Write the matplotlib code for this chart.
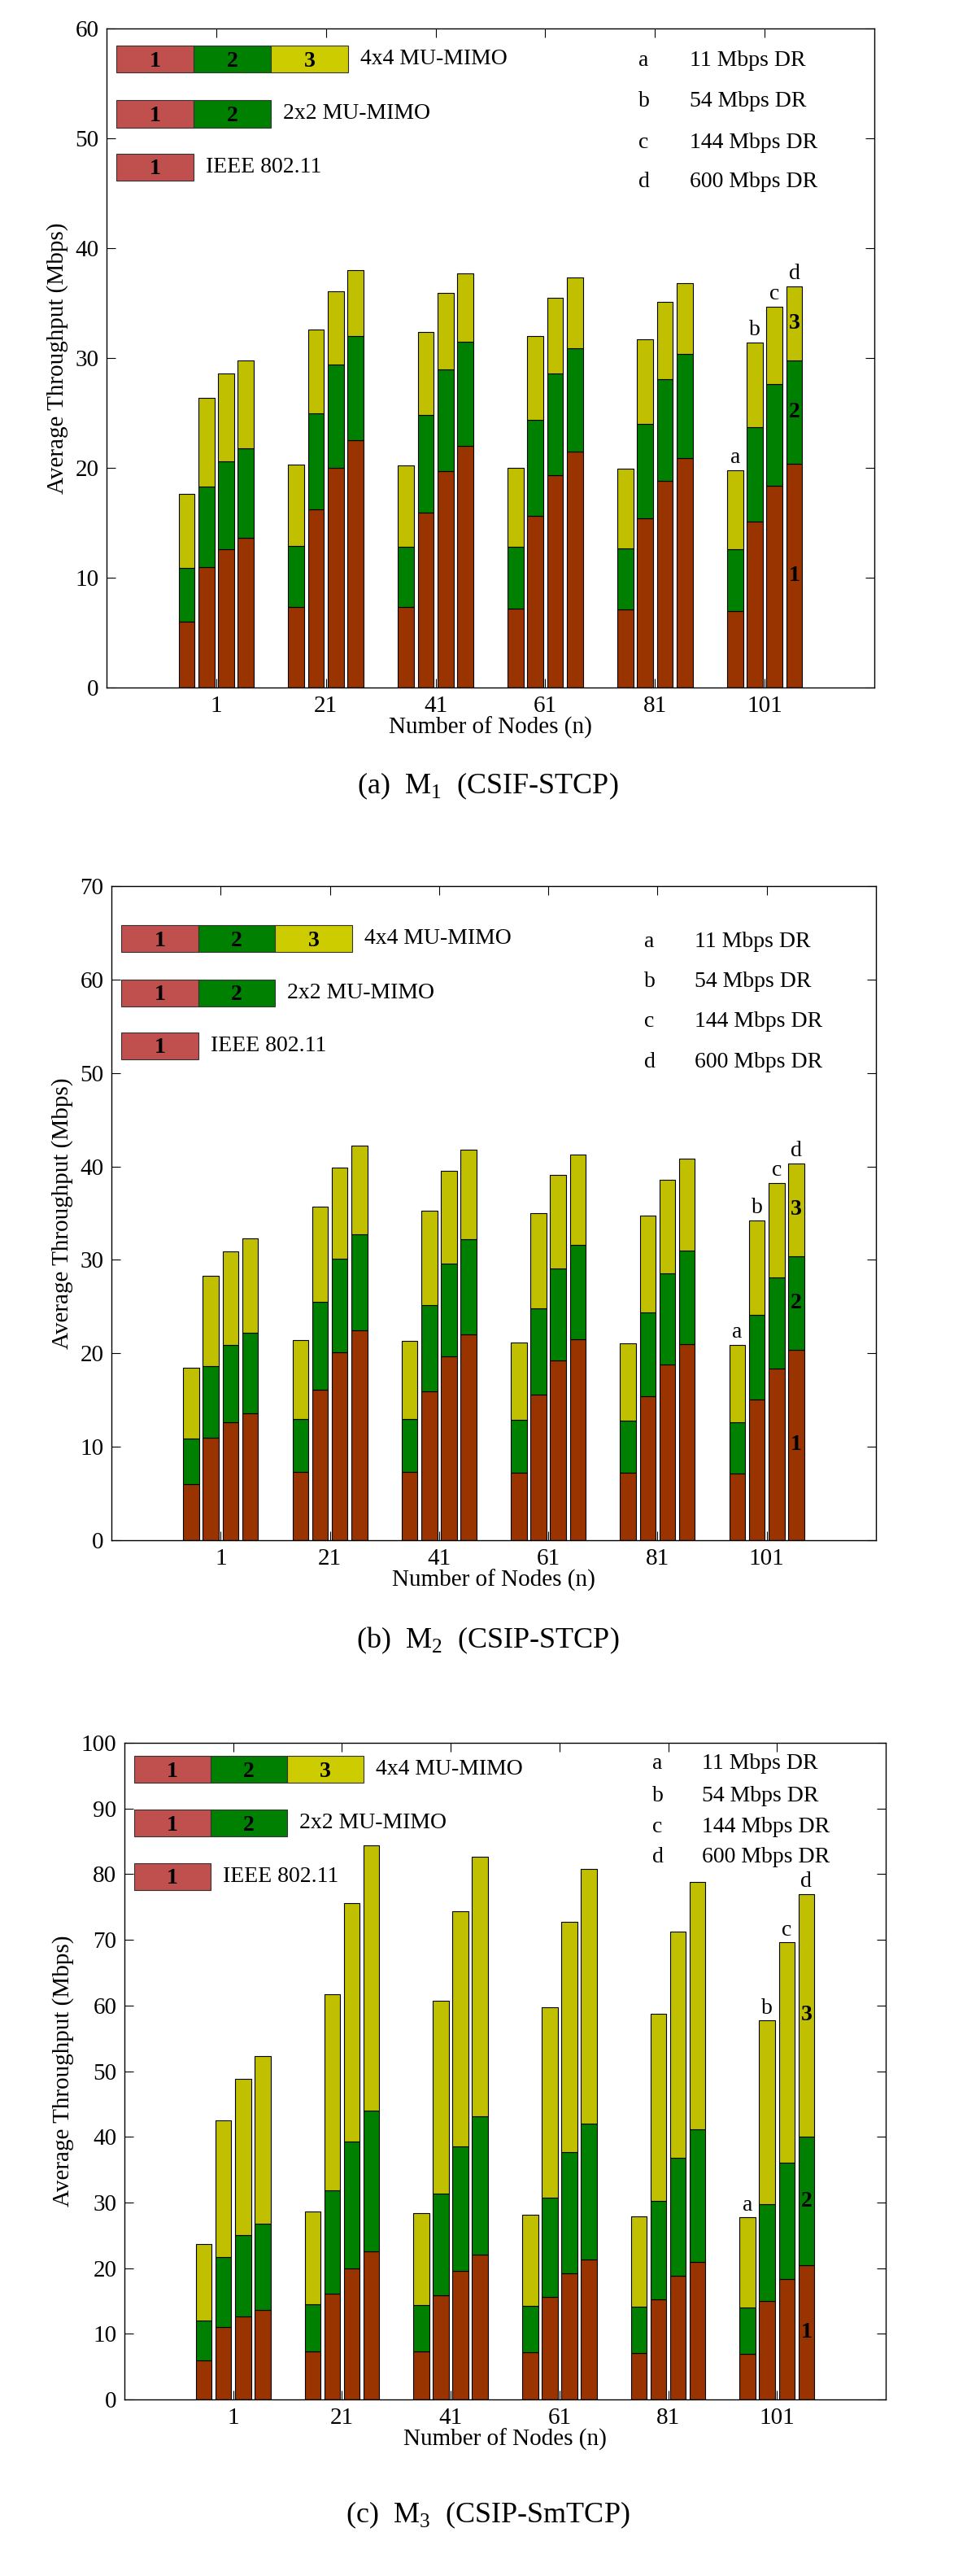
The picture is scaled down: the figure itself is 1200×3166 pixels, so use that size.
import matplotlib.pyplot as plt
from matplotlib.patches import Rectangle
import numpy as np

plt.rcParams['font.family'] = ['Liberation Serif', 'DejaVu Serif']
plt.rcParams['mathtext.fontset'] = 'custom'
plt.rcParams['mathtext.rm'] = 'Liberation Serif'

# number of nodes, data rates
nodes = ['1', '21', '41', '61', '81', '101']
rate_tags = ['a', 'b', 'c', 'd']
rate_names = ['11 Mbps DR', '54 Mbps DR', '144 Mbps DR', '600 Mbps DR']
scheme_names = ['4x4 MU-MIMO', '2x2 MU-MIMO', 'IEEE 802.11']

# throughput (Mbps) per node count (rows) and data rate (cols)
# M1 (CSIF-STCP)
m1_ieee = [[6.0, 11.0, 12.6, 13.6], [7.3, 16.2, 20.0, 22.5], [7.3, 15.9, 19.7, 22.0],
           [7.2, 15.6, 19.3, 21.5], [7.1, 15.4, 18.8, 20.9], [7.0, 15.1, 18.4, 20.4]]
m1_2x2 = [[10.9, 18.3, 20.6, 21.8], [12.9, 25.0, 29.4, 32.0], [12.8, 24.8, 29.0, 31.5],
          [12.8, 24.4, 28.6, 30.9], [12.7, 24.0, 28.1, 30.4], [12.6, 23.7, 27.6, 29.8]]
m1_4x4 = [[17.6, 26.4, 28.6, 29.8], [20.3, 32.6, 36.1, 38.0], [20.2, 32.4, 35.9, 37.7],
          [20.0, 32.0, 35.5, 37.3], [19.9, 31.7, 35.1, 36.8], [19.8, 31.4, 34.7, 36.5]]

# M2 (CSIP-STCP)
m2_ieee = [[6.0, 11.0, 12.6, 13.6], [7.3, 16.1, 20.1, 22.5], [7.3, 15.9, 19.7, 22.0],
           [7.2, 15.6, 19.2, 21.5], [7.2, 15.4, 18.8, 21.0], [7.1, 15.1, 18.4, 20.4]]
m2_2x2 = [[10.9, 18.6, 20.9, 22.2], [13.0, 25.5, 30.1, 32.7], [13.0, 25.2, 29.6, 32.2],
          [12.9, 24.8, 29.1, 31.6], [12.8, 24.4, 28.6, 31.0], [12.6, 24.1, 28.1, 30.4]]
m2_4x4 = [[18.5, 28.3, 30.9, 32.3], [21.4, 35.7, 39.9, 42.2], [21.3, 35.3, 39.5, 41.8],
          [21.2, 35.0, 39.1, 41.3], [21.1, 34.7, 38.6, 40.8], [20.9, 34.2, 38.2, 40.3]]

# M3 (CSIP-SmTCP)
m3_ieee = [[6.0, 11.0, 12.6, 13.6], [7.3, 16.1, 20.0, 22.5], [7.3, 15.8, 19.6, 22.0],
           [7.2, 15.6, 19.2, 21.3], [7.1, 15.3, 18.8, 20.9], [7.0, 15.0, 18.4, 20.4]]
m3_2x2 = [[12.0, 21.7, 25.0, 26.8], [14.5, 31.8, 39.3, 44.0], [14.4, 31.3, 38.5, 43.1],
          [14.3, 30.7, 37.7, 42.0], [14.1, 30.2, 36.8, 41.1], [14.0, 29.7, 36.0, 40.0]]
m3_4x4 = [[23.7, 42.5, 48.8, 52.3], [28.6, 61.7, 75.6, 84.4], [28.4, 60.7, 74.3, 82.7],
          [28.1, 59.7, 72.7, 80.8], [27.9, 58.7, 71.2, 78.8], [27.7, 57.7, 69.6, 77.0]]

captions = [r'(a)  M$_1$  (CSIF-STCP)', r'(b)  M$_2$  (CSIP-STCP)', r'(c)  M$_3$  (CSIP-SmTCP)']

RED, GREEN, YELLOW = '#993300', '#008000', '#c0c000'
LRED, LYELLOW = '#c0504d', '#cccc00'
FS = 20

W, H = 1200, 3166
fig = plt.figure(figsize=(W / 100, H / 100), dpi=100)


def px_axes(l, t, r, b):
    return fig.add_axes([l / W, (H - b) / H, (r - l) / W, (b - t) / H])


panels = [
    dict(box=(131, 35, 1075, 845), data=(m1_ieee, m1_2x2, m1_4x4), ymax=60,
         leg_y=[0.974, 0.891, 0.810], leg_h=0.041, dr_y=[0.951, 0.889, 0.827, 0.767],
         dr_x=(0.693, 0.760), cap_y=966),
    dict(box=(137, 1089, 1077, 1893), data=(m2_ieee, m2_2x2, m2_4x4), ymax=70,
         leg_y=[0.940, 0.857, 0.776], leg_h=0.041, dr_y=[0.915, 0.854, 0.793, 0.731],
         dr_x=(0.697, 0.763), cap_y=2016),
    dict(box=(153, 2142, 1089, 2949), data=(m3_ieee, m3_2x2, m3_4x4), ymax=100,
         leg_y=[0.980, 0.898, 0.817], leg_h=0.041, dr_y=[0.968, 0.919, 0.872, 0.826],
         dr_x=(0.693, 0.759), cap_y=3091),
]

offsets = [-0.27, -0.09, 0.09, 0.27]
bw = 0.146
pos = np.arange(1, len(nodes) + 1)

for p, cap in zip(panels, captions):
    ax = px_axes(*p['box'])
    ieee, m2, m4 = (np.array(d) for d in p['data'])
    for j in range(4):
        x = pos + offsets[j]
        ax.bar(x, ieee[:, j], bw, color=RED, edgecolor='black', linewidth=0.8)
        ax.bar(x, m2[:, j] - ieee[:, j], bw, bottom=ieee[:, j], color=GREEN,
               edgecolor='black', linewidth=0.8)
        ax.bar(x, m4[:, j] - m2[:, j], bw, bottom=m2[:, j], color=YELLOW,
               edgecolor='black', linewidth=0.8)
        # a/b/c/d tags over the last group
        ax.annotate(rate_tags[j], (pos[-1] + offsets[j], m4[-1, j]), xytext=(0, 2),
                    textcoords='offset points', ha='center', va='bottom', fontsize=FS)
    # 1/2/3 inside the last bar
    xl = pos[-1] + offsets[-1]
    mids = [ieee[-1, 3] / 2, (ieee[-1, 3] + m2[-1, 3]) / 2, (m2[-1, 3] + m4[-1, 3]) / 2]
    for k, yv in enumerate(mids):
        ax.text(xl, yv, str(k + 1), ha='center', va='center', fontsize=FS, fontweight='bold')

    ax.set_xlim(0, 7)
    ax.set_ylim(0, p['ymax'])
    ax.set_xticks(pos)
    ax.set_xticklabels(nodes)
    ax.set_yticks(np.arange(0, p['ymax'] + 1, 10))
    ax.tick_params(direction='in', top=True, right=True, labelsize=FS + 1, length=8,
                   width=0.8, pad=7)
    ax.set_ylabel('Average Throughput (Mbps)', fontsize=FS + 1, labelpad=6)
    ax.set_xlabel('Number of Nodes (n)', fontsize=FS + 1, labelpad=0)
    for s in ax.spines.values():
        s.set_linewidth(1.0)

    # scheme key (drawn boxes)
    seg = 0.1006
    cols = [LRED, GREEN, LYELLOW]
    for row, name in enumerate(scheme_names):
        n = 3 - row
        top = p['leg_y'][row]
        for k in range(n):
            ax.add_patch(Rectangle((0.0127 + k * seg, top - p['leg_h']), seg, p['leg_h'],
                                   transform=ax.transAxes, facecolor=cols[k],
                                   edgecolor='#333333', linewidth=0.8, clip_on=False))
            ax.text(0.0127 + (k + 0.5) * seg, top - p['leg_h'] / 2 - 0.003, str(k + 1),
                    transform=ax.transAxes, ha='center', va='center', fontsize=FS,
                    fontweight='bold')
        ax.text(0.0127 + n * seg + 0.016, top - p['leg_h'] / 2, name,
                transform=ax.transAxes, ha='left', va='center', fontsize=FS)

    # data-rate key
    for tag, name, yy in zip(rate_tags, rate_names, p['dr_y']):
        ax.text(p['dr_x'][0], yy, tag, transform=ax.transAxes, ha='left', va='center',
                fontsize=FS)
        ax.text(p['dr_x'][1], yy, name, transform=ax.transAxes, ha='left', va='center',
                fontsize=FS)

    fig.text(600 / W, 1 - p['cap_y'] / H, cap, ha='center', va='center', fontsize=26)

fig.savefig('out.png', dpi=100)
